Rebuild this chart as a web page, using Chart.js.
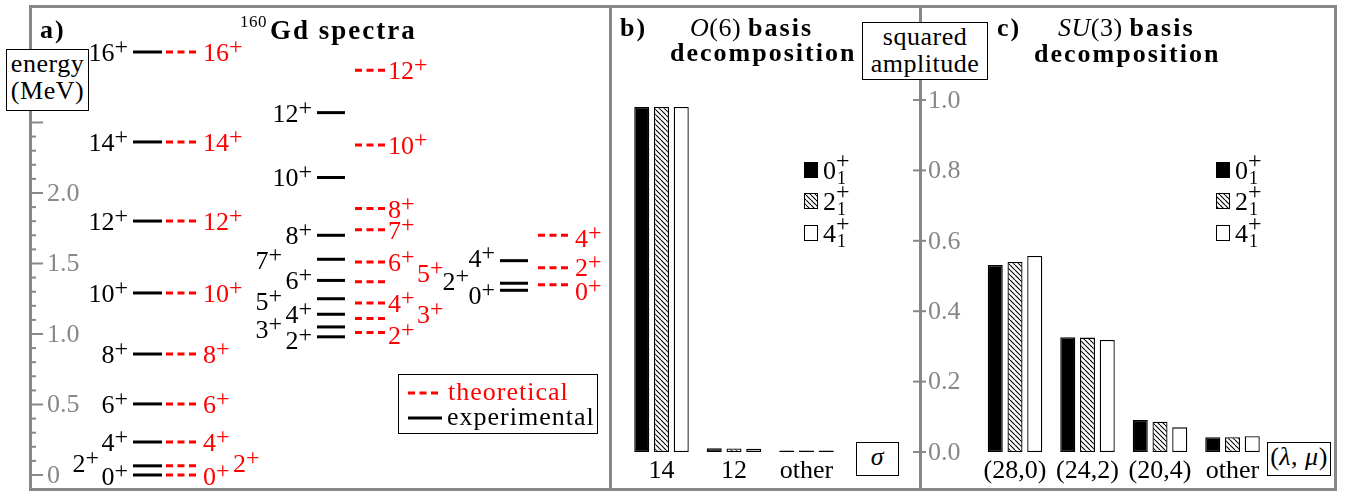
<!DOCTYPE html>
<html>
<head>
<meta charset="utf-8">
<script src="https://cdn.jsdelivr.net/npm/chart.js@4.4.1/dist/chart.umd.min.js"></script>
<style>
  body { margin: 0; background: #fff; }
  #fig { position: relative; width: 1351px; height: 494px; overflow: hidden; font-family: "Liberation Serif", "Tinos", "Times New Roman", "DejaVu Serif", serif; }
  .ln { position: absolute; background: #888; }
  canvas { position: absolute; top: 0; }
  .t { position: absolute; white-space: nowrap; font-size: 26px; line-height: 27px; color: #000; letter-spacing: 0.5px; }
  .t b { letter-spacing: 2px; }
  .box { position: absolute; border: 1px solid #000; background: #fff; text-align: center; font-size: 26px; line-height: 27px; box-sizing: border-box; white-space: nowrap; letter-spacing: 0.5px; }
</style>
</head>
<body>
<div id="fig">
  <!-- frame and panel dividers -->
  <div class="ln" style="left:29px;top:5px;width:1308px;height:3px"></div>
  <div class="ln" style="left:29px;top:488px;width:1308px;height:3px"></div>
  <div class="ln" style="left:29px;top:5px;width:3px;height:486px"></div>
  <div class="ln" style="left:1334px;top:5px;width:3px;height:486px"></div>
  <div class="ln" style="left:609px;top:5px;width:3px;height:486px"></div>
  <div class="ln" style="left:919px;top:5px;width:3px;height:486px"></div>

  <canvas id="levels" width="611" height="494" style="left:0"></canvas>
  <canvas id="o6" width="309" height="494" style="left:611px"></canvas>
  <canvas id="su3" width="436" height="494" style="left:900px"></canvas>

  <!-- titles -->
  <div class="t" style="left:40px;top:16px"><b>a)</b></div>
  <div class="t" style="left:240px;top:14px;font-size:17px;line-height:16px">160</div>
  <div class="t" style="left:270px;top:17px;font-size:27px"><b>Gd spectra</b></div>
  <div class="t" style="left:620px;top:14px"><b>b)</b></div>
  <div class="t" style="left:690px;top:14px"><i>O</i>(6) <b>basis</b></div>
  <div class="t" style="left:670px;top:39px"><b>decomposition</b></div>
  <div class="t" style="left:997px;top:14px"><b>c)</b></div>
  <div class="t" style="left:1058px;top:14px"><i>SU</i>(3) <b>basis</b></div>
  <div class="t" style="left:1034px;top:40px"><b>decomposition</b></div>

  <!-- axis name boxes -->
  <div class="box" style="left:6px;top:49px;width:83px;height:62px">energy<br>(MeV)</div>
  <div class="box" style="left:862px;top:22px;width:126px;height:58px">squared<br>amplitude</div>
  <div class="box" style="left:856px;top:442px;width:43px;height:34px"><i>σ</i></div>
  <div class="box" style="left:1267px;top:442px;width:64px;height:34px">(<i>λ</i>, <i>μ</i>)</div>
</div>

<script>
// ---- data: 160Gd level energies (MeV) ----
const gsbSpins = [0, 2, 4, 6, 8, 10, 12, 14, 16];
const gsbExp   = [0, 0.065, 0.234, 0.504, 0.858, 1.291, 1.801, 2.362, 3.0];
const gsbTheo  = [0, 0.065, 0.234, 0.504, 0.858, 1.291, 1.801, 2.362, 3.0];

const gamSpins = [2, 3, 4, 5, 6, 7, 8, 10, 12];
const gamExp   = [0.98, 1.05, 1.14, 1.25, 1.38, 1.53, 1.70, 2.11, 2.57];
const gamTheo  = [1.01, 1.11, 1.22, 1.37, 1.51, 1.74, 1.89, 2.34, 2.87];

const betSpins = [0, 2, 4];
const betExp   = [1.31, 1.36, 1.52];
const betTheo  = [1.35, 1.47, 1.70];

const energyTickValues = [0, 0.5, 1.0, 1.5, 2.0];
const energyTickLabels = ['0', '0.5', '1.0', '1.5', '2.0'];

// ---- data: basis decompositions (squared amplitudes) ----
const o6Cats  = ['14', '12', 'other'];
const o6Gs    = [0.98, 0.011, 0.004];
const o6Two   = [0.98, 0.010, 0.004];
const o6Four  = [0.98, 0.009, 0.004];

const su3Cats = ['(28,0)', '(24,2)', '(20,4)', 'other'];
const su3Gs   = [0.531, 0.326, 0.091, 0.042];
const su3Two  = [0.540, 0.325, 0.086, 0.042];
const su3Four = [0.557, 0.318, 0.070, 0.045];

const ampTickValues = [0, 0.2, 0.4, 0.6, 0.8, 1.0];
const ampTickLabels = ['0.0', '0.2', '0.4', '0.6', '0.8', '1.0'];
const stateNames = ['0', '2', '4'];

const RED = '#ff0000';
const GREY = '#888';
const FONT = '"Liberation Serif", "Tinos", "Times New Roman", "DejaVu Serif", serif';

// hatched fill for the 2+ state
const hatch = (() => {
  const c = document.createElement('canvas');
  c.width = 5; c.height = 5;
  const g = c.getContext('2d');
  g.fillStyle = '#fff';
  g.fillRect(0, 0, 5, 5);
  g.strokeStyle = '#000';
  g.lineWidth = 1.1;
  g.beginPath();
  for (const k of [-5, 0, 5]) { g.moveTo(k, 0); g.lineTo(k + 5, 5); }
  g.stroke();
  return g.createPattern(c, 'repeat');
})();

// draws e.g. 16^+ or 0_1^+ ; y is the vertical centre of the digits
function stateLabel(ctx, x, y, base, sup, sub, align, color) {
  ctx.save();
  ctx.fillStyle = color;
  ctx.textAlign = 'left';
  ctx.textBaseline = 'alphabetic';
  ctx.font = '26px ' + FONT;
  const wb = ctx.measureText(base).width;
  ctx.font = '24px ' + FONT;
  const wsup = sup ? ctx.measureText(sup).width : 0;
  ctx.font = '18px ' + FONT;
  const wsub = sub ? ctx.measureText(sub).width : 0;
  const w = wb + 1 + Math.max(wsup, wsub);
  const x0 = align === 'right' ? x - w : x;
  const bl = y + 9;
  ctx.font = '26px ' + FONT;
  ctx.fillText(base, x0, bl);
  if (sup) {
    ctx.font = '24px ' + FONT;
    ctx.fillText(sup, x0 + wb, bl - (sub ? 11 : 7));
  }
  if (sub) {
    ctx.font = '18px ' + FONT;
    ctx.fillText(sub, x0 + wb + 1, bl + 5);
  }
  ctx.restore();
}

// ---- panel a: level scheme ----
const columns = [
  { key: 'gsbExp',  spins: gsbSpins, e: gsbExp,  x0: 133, x1: 162, theo: false, lx: 129 },
  { key: 'gsbTheo', spins: gsbSpins, e: gsbTheo, x0: 166, x1: 196, theo: true,  lx: 203 },
  { key: 'gamExp',  spins: gamSpins, e: gamExp,  x0: 317, x1: 345, theo: false, lx: 313 },
  { key: 'gamTheo', spins: gamSpins, e: gamTheo, x0: 355, x1: 387, theo: true,  lx: 388 },
  { key: 'betExp',  spins: betSpins, e: betExp,  x0: 500, x1: 528, theo: false, lx: 496 },
  { key: 'betTheo', spins: betSpins, e: betTheo, x0: 538, x1: 568, theo: true,  lx: 575 }
];

// label shifts where neighbouring levels crowd each other [dx, dy]
const nudge = {
  'gsbExp:2': [-29, -3], 'gsbExp:0': [0, 1],
  'gsbTheo:2': [30, -3], 'gsbTheo:0': [0, 1],
  'gamExp:3': [-30, 2], 'gamExp:5': [-30, 2], 'gamExp:7': [-30, 1], 'gamExp:2': [0, 3],
  'gamTheo:5': [29, -9], 'gamTheo:3': [29, -4], 'gamTheo:2': [0, 2],
  'betExp:4': [0, -3], 'betExp:2': [-26, -2], 'betExp:0': [0, 5],
  'betTheo:4': [0, 3], 'betTheo:2': [0, -1], 'betTheo:0': [0, 6]
};

const levelSets = [];
columns.forEach(col => {
  col.e.forEach((en, i) => {
    levelSets.push({
      data: [{ x: col.x0, y: en }, { x: col.x1, y: en }],
      borderColor: col.theo ? RED : '#000',
      borderWidth: 3,
      borderDash: col.theo ? [7, 4.5] : [],
      pointRadius: 0,
      showLine: true,
      fill: false
    });
  });
});

const levelDecor = {
  id: 'levelDecor',
  afterDatasetsDraw(chart) {
    const ctx = chart.ctx;
    const ys = chart.scales.y;
    const left = chart.chartArea.left;
    ctx.save();
    // axis ticks, pointing into the panel
    ctx.strokeStyle = GREY;
    ctx.lineWidth = 2;
    for (let i = 0; i <= 25; i++) {
      const py = ys.getPixelForValue(i / 10);
      ctx.beginPath();
      ctx.moveTo(left, py);
      ctx.lineTo(left + (i % 5 === 0 ? 12 : 5), py);
      ctx.stroke();
    }
    ctx.fillStyle = GREY;
    ctx.font = '26px ' + FONT;
    ctx.textBaseline = 'middle';
    ctx.textAlign = 'left';
    energyTickValues.forEach((v, i) => {
      ctx.fillText(energyTickLabels[i], left + 16, ys.getPixelForValue(v) + 1);
    });
    ctx.restore();

    // level labels
    columns.forEach(col => {
      col.e.forEach((en, i) => {
        const s = col.spins[i];
        const [dx, dy] = nudge[col.key + ':' + s] || [0, 0];
        stateLabel(ctx, col.lx + dx, ys.getPixelForValue(en) + dy, String(s), '+', null,
          col.theo ? 'left' : 'right', col.theo ? RED : '#000');
      });
    });

    // legend
    ctx.save();
    ctx.strokeStyle = '#000';
    ctx.lineWidth = 1;
    ctx.strokeRect(398.5, 374.5, 199, 59);
    ctx.lineWidth = 3;
    ctx.strokeStyle = RED;
    ctx.setLineDash([7, 4.5]);
    ctx.beginPath(); ctx.moveTo(408, 393); ctx.lineTo(440, 393); ctx.stroke();
    ctx.setLineDash([]);
    ctx.strokeStyle = '#000';
    ctx.beginPath(); ctx.moveTo(408, 418); ctx.lineTo(442, 418); ctx.stroke();
    ctx.font = '26px ' + FONT;
    ctx.letterSpacing = '1px';
    ctx.textBaseline = 'alphabetic';
    ctx.fillStyle = RED;
    ctx.fillText('theoretical', 448, 400);
    ctx.fillStyle = '#000';
    ctx.fillText('experimental', 447, 425);
    ctx.restore();
  }
};

new Chart(document.getElementById('levels'), {
  type: 'scatter',
  data: { datasets: levelSets },
  options: {
    responsive: false,
    animation: false,
    layout: { padding: { left: 31, right: 0, top: 6, bottom: 4 } },
    plugins: { legend: { display: false }, tooltip: { enabled: false } },
    scales: {
      x: { type: 'linear', min: 31, max: 611, display: false },
      y: { type: 'linear', min: -0.1064, max: 3.3262, display: false }
    }
  },
  plugins: [levelDecor]
});

// ---- panels b and c: bar charts ----
const barDecor = {
  id: 'barDecor',
  afterDraw(chart, args, opts) {
    const ctx = chart.ctx;
    const ys = chart.scales.y;
    ctx.save();
    // legend
    chart.data.datasets.forEach((ds, i) => {
      const cy = opts.rows[i];
      ctx.fillStyle = ds.backgroundColor;
      ctx.fillRect(opts.legendX, cy - 8, 14, 16);
      ctx.strokeStyle = '#000';
      ctx.lineWidth = 1;
      ctx.strokeRect(opts.legendX + 0.5, cy - 7.5, 13, 15);
      stateLabel(ctx, opts.legendX + 19, cy, stateNames[i], '+', '1', 'left', '#000');
    });
    // shared amplitude axis
    if (opts.axisX != null) {
      ctx.strokeStyle = GREY;
      ctx.lineWidth = 2;
      ctx.fillStyle = GREY;
      ctx.font = '26px ' + FONT;
      ctx.textBaseline = 'middle';
      ctx.textAlign = 'left';
      ampTickValues.forEach((v, i) => {
        const py = ys.getPixelForValue(v);
        ctx.beginPath();
        ctx.moveTo(opts.axisX - 7, py);
        ctx.lineTo(opts.axisX + 6, py);
        ctx.stroke();
        ctx.fillText(ampTickLabels[i], opts.axisX + 8, py + 1);
      });
    }
    ctx.restore();
  }
};

function barSets(a, b, c) {
  const common = { borderColor: '#000', borderWidth: 1.3, borderSkipped: false,
                   categoryPercentage: 0.817, barPercentage: 0.76 };
  return [
    Object.assign({ label: '0', data: a, backgroundColor: '#000' }, common),
    Object.assign({ label: '2', data: b, backgroundColor: hatch }, common),
    Object.assign({ label: '4', data: c, backgroundColor: '#fff' }, common)
  ];
}

function barOptions(padL, padR, decor) {
  return {
    responsive: false,
    animation: false,
    layout: { padding: { left: padL, right: padR, top: 100, bottom: 4 } },
    plugins: { legend: { display: false }, tooltip: { enabled: false }, barDecor: decor },
    scales: {
      x: {
        grid: { display: false, drawTicks: false },
        border: { display: false },
        ticks: { color: '#000', padding: 3.4, font: { family: FONT, size: 26 } }
      },
      y: { min: 0, max: 1, display: false }
    }
  };
}

new Chart(document.getElementById('o6'), {
  type: 'bar',
  data: { labels: o6Cats, datasets: barSets(o6Gs, o6Two, o6Four) },
  options: barOptions(14.25, 77.25, { legendX: 193, rows: [170, 201, 233], axisX: null }),
  plugins: [barDecor]
});

new Chart(document.getElementById('su3'), {
  type: 'bar',
  data: { labels: su3Cats, datasets: barSets(su3Gs, su3Two, su3Four) },
  options: barOptions(78.75, 67.25, { legendX: 316, rows: [170, 201, 233], axisX: 20 }),
  plugins: [barDecor]
});
</script>
</body>
</html>
